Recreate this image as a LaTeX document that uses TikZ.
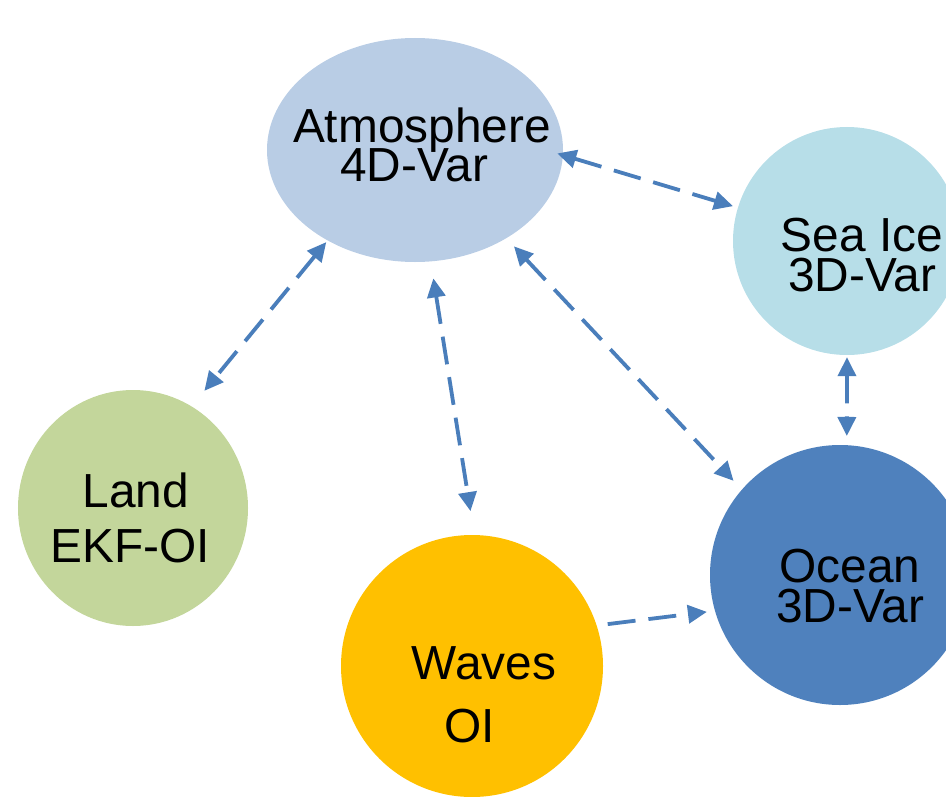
\documentclass[tikz,border=0pt]{standalone}
\usepackage{fontspec}
\setmainfont{Liberation Sans}
\usetikzlibrary{shapes.geometric,arrows.meta}

\definecolor{atmfill}{HTML}{B9CDE5}
\definecolor{icefill}{HTML}{B7DEE8}
\definecolor{landfill}{HTML}{C3D69B}
\definecolor{wavefill}{HTML}{FFC000}
\definecolor{oceanfill}{HTML}{4F81BD}
\definecolor{linkblue}{HTML}{4A7EBB}

\newcommand{\capfont}{\fontsize{48}{40}\selectfont\lineskiplimit=-100bp\relax}

\begin{document}
\begin{tikzpicture}[x=1bp,y=-1bp,
  bubble/.style={ellipse,inner sep=0pt},
  caption/.style={align=center,inner sep=0pt,font=\capfont},
  link/.style={draw=linkblue,line width=3.8bp,dash pattern=on 28bp off 13bp},
  >={Triangle[length=19bp,width=18bp]}]
\useasboundingbox (0,0) rectangle (946,797);
\clip (0,0) rectangle (946,797);

% components
\node[bubble,fill=atmfill,minimum width=296bp,minimum height=224bp] (atm) at (415,150) {};
\node[bubble,fill=icefill,minimum width=228bp,minimum height=228bp] (ice) at (847,241) {};
\node[bubble,fill=landfill,minimum width=230bp,minimum height=236bp] (land) at (133,508) {};
\node[bubble,fill=wavefill,minimum width=262bp,minimum height=262bp] (waves) at (472,666) {};
\node[bubble,fill=oceanfill,minimum width=260bp,minimum height=260bp] (ocean) at (840,575) {};

\node[caption] (atmtxt) at (422,145) {Atmosphere\\[-1bp]\hspace*{-16bp}4D-Var};
\node[caption] (icetxt) at (862,255) {Sea Ice\\3D-Var};
\node[caption] (landtxt) at (130,518) {\hspace*{12bp}Land\\[15bp]EKF-OI};
\node[caption] (wavestxt) at (484,695) {Waves\\[23bp]\hspace*{-28bp}OI};
\node[caption] (oceantxt) at (850,586) {Ocean\\3D-Var};

% couplings
\draw[link,<->,shorten <=-6bp,shorten >=5bp] (atm.-2.7) -- (ice.163.4);
\draw[link,<->,shorten <=2bp,shorten >=20bp] (atm.-134.1) -- (land.60.1);
\draw[link,<->,shorten <=17bp,shorten >=24bp] (atm.-82.2) -- (waves.89.2);
\draw[link,<->,shorten <=11bp,shorten >=12bp] (atm.-44.5) -- (ocean.139.5);
\draw[link,<->,shorten <=2bp,shorten >=9bp] (ice.-90.5) -- (ocean.87.4);
\draw[link,->,shorten <=11bp,shorten >=8bp] (waves.18) -- (ocean.-164.4);
\end{tikzpicture}
\end{document}
